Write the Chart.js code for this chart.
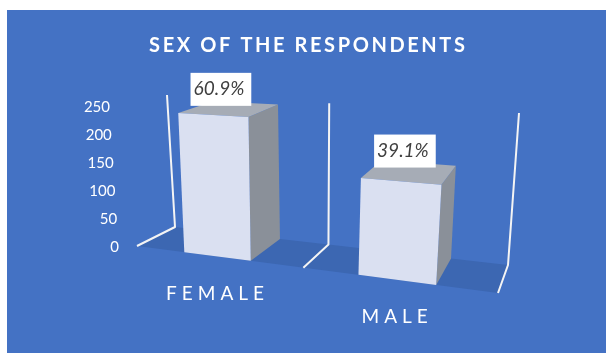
<!DOCTYPE html>
<html>
<head>
<meta charset="utf-8">
<title>Sex of the respondents</title>
<script src="https://cdn.jsdelivr.net/npm/chart.js@4"></script>
<style>
  html, body { margin: 0; padding: 0; background: #fff; }
  #wrap { width: 606px; height: 353px; }
</style>
</head>
<body>
<div id="wrap"><canvas id="sexChart" width="606" height="353"></canvas></div>
<script>
const categories = ['FEMALE', 'MALE'];
const respondents = [243, 156];
const yTicks = [0, 50, 100, 150, 200, 250];
const chartTitle = 'SEX OF THE RESPONDENTS';

const total = respondents.reduce((a, b) => a + b, 0);
const shares = respondents.map(v => (v / total * 100).toFixed(1) + '%');

// corners of the 3D "room" (floor + back wall) in canvas pixels
const room = {
  frontFloor: [[137, 246], [498, 293]],
  backFloor: [[175, 227], [508, 265]],
  frontTop: [[128, 106], [510, 128]],
  backTop: [[167, 95], [519, 113]],
  warp: 1.17 // right side is nearer, so it gets more room
};

const colors = {
  background: '#4472C4',
  floor: '#3C67B2',
  wall: '#F4F4F4',
  front: '#DAE0F1',
  side: '#8A9099',
  top: '#A6ACB6',
  text: '#FFFFFF',
  label: '#3F3F3F'
};

const lerp = (a, b, k) => [a[0] + (b[0] - a[0]) * k, a[1] + (b[1] - a[1]) * k];

// t: 0..1 across categories, h: 0..1 of the value axis, w: 0 front .. 1 back
function project(t, h, w) {
  const s = t / (t + room.warp * (1 - t));
  const ff = lerp(room.frontFloor[0], room.frontFloor[1], s);
  const fb = lerp(room.backFloor[0], room.backFloor[1], s);
  const tf = lerp(room.frontTop[0], room.frontTop[1], s);
  const tb = lerp(room.backTop[0], room.backTop[1], s);
  return lerp(lerp(ff, fb, w), lerp(tf, tb, w), h);
}

function fillQuad(ctx, pts, color) {
  ctx.beginPath();
  ctx.moveTo(pts[0][0], pts[0][1]);
  for (let i = 1; i < pts.length; i++) ctx.lineTo(pts[i][0], pts[i][1]);
  ctx.closePath();
  ctx.fillStyle = color;
  ctx.fill();
}

function spacedText(ctx, text, cx, cy, spacing) {
  ctx.letterSpacing = spacing + 'px';
  const w = ctx.measureText(text).width - spacing;
  ctx.textAlign = 'left';
  ctx.fillText(text, cx - w / 2, cy);
  ctx.letterSpacing = '0px';
}

const bar3d = {
  id: 'bar3d',
  beforeDraw(chart) {
    const ctx = chart.ctx;
    ctx.save();
    ctx.fillStyle = '#fff';
    ctx.fillRect(0, 0, chart.width, chart.height);
    ctx.fillStyle = colors.background;
    ctx.fillRect(7, 10, chart.width - 7, chart.height - 10);
    ctx.restore();
  },
  afterDatasetsDraw(chart) {
    const ctx = chart.ctx;
    const area = chart.chartArea;
    const xs = chart.scales.x;
    const ys = chart.scales.y;
    const toT = px => (px - area.left) / (area.right - area.left);
    const toH = py => (area.bottom - py) / (area.bottom - area.top);

    ctx.save();

    // floor
    fillQuad(ctx, [project(0, 0, 0), project(1, 0, 0), project(1, 0, 1), project(0, 0, 1)], colors.floor);

    // category boundary lines (back wall + floor)
    const n = categories.length;
    const step = (xs.getPixelForValue(1) - xs.getPixelForValue(0));
    ctx.strokeStyle = colors.wall;
    ctx.lineWidth = 2;
    ctx.lineJoin = 'round';
    for (let i = 0; i <= n; i++) {
      const t = toT(xs.getPixelForValue(0) - step / 2 + i * step);
      const a = project(t, 1, 1), b = project(t, 0, 1), c = project(t, 0, 0);
      ctx.beginPath();
      ctx.moveTo(a[0], a[1]);
      ctx.lineTo(b[0], b[1]);
      ctx.lineTo(c[0], c[1]);
      ctx.stroke();
    }

    // y tick labels along the front-left edge
    ctx.font = '15px Lato';
    ctx.fillStyle = colors.text;
    ctx.textAlign = 'right';
    ctx.textBaseline = 'middle';
    ys.ticks.forEach(tk => {
      const p = project(0, toH(ys.getPixelForValue(tk.value)), 0);
      ctx.fillText(String(tk.value), p[0] - 18, p[1] + 1);
    });

    // bars
    const meta = chart.getDatasetMeta(0);
    meta.data.forEach((el, i) => {
      const t0 = toT(el.x - el.width / 2);
      const t1 = toT(el.x + el.width / 2);
      const h = toH(el.y);
      fillQuad(ctx, [project(t1, 0, 0), project(t1, 0, 1), project(t1, h, 1), project(t1, h, 0)], colors.side);
      fillQuad(ctx, [project(t0, h, 0), project(t1, h, 0), project(t1, h, 1), project(t0, h, 1)], colors.top);
      fillQuad(ctx, [project(t0, 0, 0), project(t1, 0, 0), project(t1, h, 0), project(t0, h, 0)], colors.front);
    });

    // value boxes
    ctx.font = 'italic 19px Lato';
    ctx.textBaseline = 'middle';
    meta.data.forEach((el, i) => {
      const tc = toT(el.x);
      const h = toH(el.y);
      const cx = project(tc, h, 0.25)[0];
      const bottom = project(tc, h, 0.75)[1];
      const text = shares[i];
      const bw = ctx.measureText(text).width + 10;
      const bh = 33;
      ctx.fillStyle = '#fff';
      ctx.fillRect(cx - bw / 2, bottom - bh, bw, bh);
      ctx.fillStyle = colors.label;
      ctx.textAlign = 'center';
      ctx.fillText(text, cx - 2, bottom - bh / 2);
    });

    // category labels under the floor
    ctx.font = '19px Lato';
    ctx.fillStyle = colors.text;
    categories.forEach((label, i) => {
      const p = project(toT(xs.getPixelForValue(i)), 0, 0);
      spacedText(ctx, label, p[0] - 2, p[1] + 37, 5);
    });

    // title
    ctx.font = 'bold 20px Lato';
    spacedText(ctx, chartTitle, 307, 46, 2.6);

    ctx.restore();
  }
};

new Chart(document.getElementById('sexChart').getContext('2d'), {
  type: 'bar',
  data: {
    labels: categories,
    datasets: [{
      label: 'Respondents',
      data: respondents,
      backgroundColor: 'rgba(0,0,0,0)',
      borderWidth: 0,
      categoryPercentage: 0.5,
      barPercentage: 0.8
    }]
  },
  options: {
    responsive: false,
    animation: false,
    layout: { padding: { left: 137, right: 108, top: 106, bottom: 107 } },
    plugins: {
      legend: { display: false },
      title: { display: false },
      tooltip: { enabled: false }
    },
    scales: {
      x: { display: false },
      y: {
        display: false,
        min: 0,
        max: 250,
        afterBuildTicks: scale => { scale.ticks = yTicks.map(v => ({ value: v })); }
      }
    }
  },
  plugins: [bar3d]
});
</script>
</body>
</html>
